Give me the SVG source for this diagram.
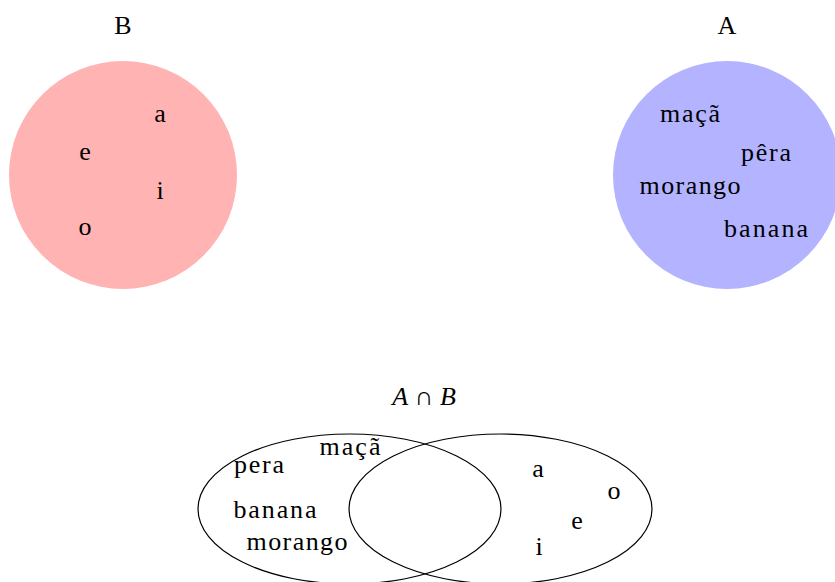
<svg xmlns="http://www.w3.org/2000/svg" width="835" height="582" viewBox="0 0 835 582">
<style>
text{font-family:"Liberation Serif","Times New Roman",serif;font-size:26px;fill:#000;text-anchor:middle}
.it{font-style:italic}
.ell{fill:none;stroke:#000;stroke-width:1.2}
</style>
<rect width="835" height="582" fill="#fff"/>
<g id="setB">
<circle cx="123" cy="175" r="114" fill="#FFB3B3"/>
<text x="123" y="34">B</text>
<text x="160" y="122">a</text>
<text x="85" y="160">e</text>
<text x="160" y="199">i</text>
<text x="85" y="235">o</text>
</g>
<g id="setA">
<circle cx="727" cy="175" r="114" fill="#B3B3FF"/>
<text x="727" y="34">A</text>
<text x="690" y="122" textLength="60" lengthAdjust="spacing">maçã</text>
<text x="766" y="161" textLength="50" lengthAdjust="spacing">pêra</text>
<text x="690" y="194" textLength="101" lengthAdjust="spacing">morango</text>
<text x="766" y="237" textLength="84" lengthAdjust="spacing">banana</text>
</g>
<g id="intersection">
<text x="424" y="405"><tspan class="it">A</tspan> ∩ <tspan class="it">B</tspan></text>
<ellipse id="ellA" class="ell" cx="349.5" cy="509" rx="151.5" ry="75"/>
<ellipse id="ellB" class="ell" cx="500.5" cy="509" rx="151.5" ry="75"/>
<text x="259" y="473" textLength="50" lengthAdjust="spacing">pera</text>
<text x="350" y="455" textLength="61" lengthAdjust="spacing">maçã</text>
<text x="275" y="518" textLength="83" lengthAdjust="spacing">banana</text>
<text x="297" y="550" textLength="101" lengthAdjust="spacing">morango</text>
<text x="538" y="477">a</text>
<text x="614" y="499">o</text>
<text x="577" y="529">e</text>
<text x="539" y="555">i</text>
</g>
<g id="connectors"/>
</svg>
